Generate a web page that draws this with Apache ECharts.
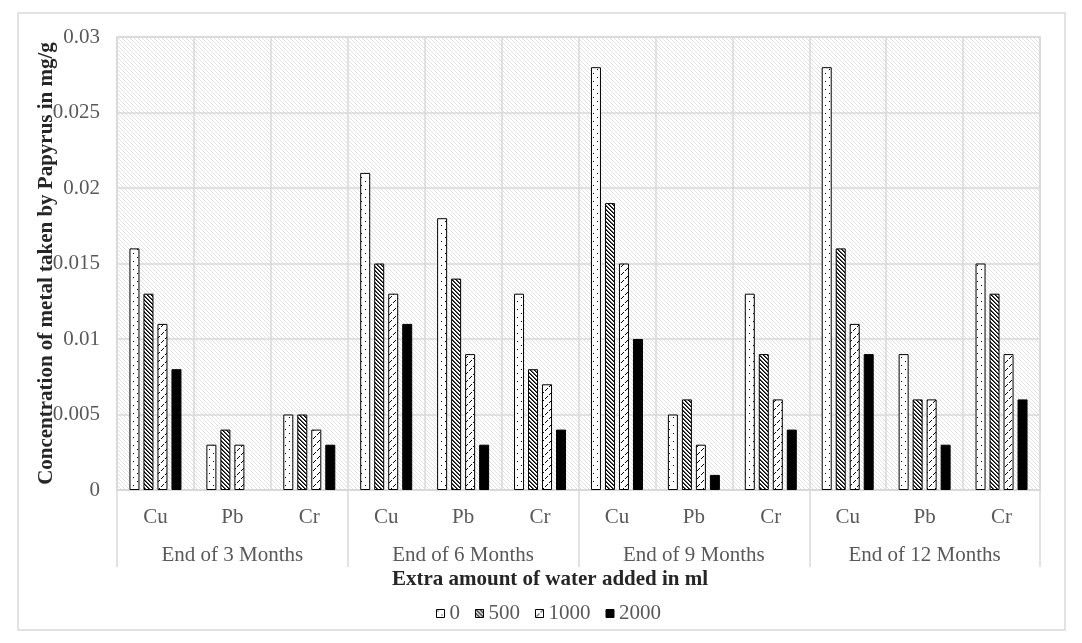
<!DOCTYPE html>
<html>
<head>
<meta charset="utf-8">
<script src="https://cdn.jsdelivr.net/npm/echarts@6/dist/echarts.min.js"></script>
<style>html,body{margin:0;padding:0;background:#fff}#c{width:1082px;height:643px}</style>
</head>
<body>
<div id="c"></div>
<script>
const metals = ['Cu','Pb','Cr','Cu','Pb','Cr','Cu','Pb','Cr','Cu','Pb','Cr'];
const periods = ['End of 3 Months','End of 6 Months','End of 9 Months','End of 12 Months'];
const seriesNames = ['0','500','1000','2000'];
const water0    = [0.016,0.003,0.005, 0.021,0.018,0.013, 0.028,0.005,0.013, 0.028,0.009,0.015];
const water500  = [0.013,0.004,0.005, 0.015,0.014,0.008, 0.019,0.006,0.009, 0.016,0.006,0.013];
const water1000 = [0.011,0.003,0.004, 0.013,0.009,0.007, 0.015,0.003,0.006, 0.011,0.006,0.009];
const water2000 = [0.008,0,0.003, 0.011,0.003,0.004, 0.010,0.001,0.004, 0.009,0.003,0.006];
const yTicks = [0,0.005,0.01,0.015,0.02,0.025,0.03];

const FONT = 'Liberation Serif';

function tile(w,h,draw){
  const c=document.createElement('canvas');c.width=w;c.height=h;
  const g=c.getContext('2d');draw(g);return c;
}
const bgPat = tile(4,4,g=>{g.fillStyle='#fff';g.fillRect(0,0,4,4);g.fillStyle='#e2e2e2';for(let i=0;i<4;i++)g.fillRect(i,i,1,1);});
const dotPat = tile(8,8,g=>{g.fillStyle='#fff';g.fillRect(0,0,8,8);g.fillStyle='#000';g.fillRect(1,1,1,1);g.fillRect(5,5,1,1);});
const backPat = tile(4,4,g=>{g.fillStyle='#fff';g.fillRect(0,0,4,4);g.fillStyle='#000';for(let i=0;i<4;i++){g.fillRect(i,i,1,1);} g.fillStyle='#555';for(let i=0;i<4;i++){g.fillRect((i+1)%4,i,1,1);} });
const fwdPat = tile(8,8,g=>{g.fillStyle='#fff';g.fillRect(0,0,8,8);g.fillStyle='#000';g.fillRect(1,6,1,1);g.fillRect(2,5,1,1);g.fillRect(3,4,1,1);g.fillRect(5,2,1,1);g.fillRect(6,1,1,1);g.fillRect(7,0,1,1);});

const fills=[{image:dotPat,repeat:'repeat'},{image:backPat,repeat:'repeat'},{image:fwdPat,repeat:'repeat'},'#000'];
const dataSets=[water0,water500,water1000,water2000];

const chart=echarts.init(document.getElementById('c'),null,{renderer:'canvas'});
chart.setOption({
  animation:false,
  backgroundColor:'#fff',
  textStyle:{fontFamily:FONT},
  grid:{left:117,right:42,top:37,bottom:153,show:true,backgroundColor:{image:bgPat,repeat:'repeat'},borderColor:'#d9d9d9',borderWidth:1.5},
  legend:{data:seriesNames,top:598,left:431,icon:'rect',itemWidth:8,itemHeight:8,itemGap:15,
    textStyle:{fontFamily:FONT,fontSize:21,color:'#595959'},
    itemStyle:{borderColor:'#000',borderWidth:1}},
  graphic:[
    {type:'rect',shape:{x:18,y:13,width:1047,height:617},style:{fill:'none',stroke:'#d9d9d9',lineWidth:1.5},silent:true},
    {type:'text',x:550,y:569,style:{text:'Extra amount of water added in ml',align:'center',font:'bold 21px "Liberation Serif"',fill:'#262626'}}
  ],
  xAxis:[
    {type:'category',data:metals,gridIndex:0,position:'bottom',
      axisLine:{show:true,lineStyle:{color:'#d9d9d9',width:1.5}},
      axisTick:{show:false},
      axisLabel:{interval:0,margin:17,fontFamily:FONT,fontSize:21,color:'#595959'},
      splitLine:{show:true,interval:0,lineStyle:{color:'#d9d9d9',width:1.5}}},
    {type:'category',data:periods,gridIndex:0,position:'bottom',
      axisLine:{show:false},
      axisTick:{show:true,interval:0,length:77,lineStyle:{color:'#d9d9d9',width:1.5}},
      axisLabel:{interval:0,margin:55,fontFamily:FONT,fontSize:21,color:'#595959'},
      splitLine:{show:false}}
  ],
  yAxis:{type:'value',min:0,max:0.03,interval:0.005,
    name:'Concentration of metal taken by Papyrus in mg/g',nameLocation:'middle',nameGap:60,nameMoveOverlap:false,
    nameTextStyle:{fontFamily:FONT,fontSize:21,fontWeight:'bold',color:'#262626'},
    axisLine:{show:false},axisTick:{show:false},
    axisLabel:{margin:17,fontFamily:FONT,fontSize:21,color:'#595959',formatter:v=>{const t=yTicks.find(x=>Math.abs(x-v)<1e-9);return String(t!==undefined?t:v);}},
    splitLine:{show:true,lineStyle:{color:'#d9d9d9',width:1.5}}},
  series:seriesNames.map((n,i)=>({
    name:n,type:'bar',xAxisIndex:0,barWidth:10,barGap:'40%',
    data:dataSets[i].map(v=>v===0?{value:v,itemStyle:{borderWidth:0}}:v),
    itemStyle:{color:fills[i],borderColor:'#000',borderWidth:1}
  }))
});
</script>
</body>
</html>
